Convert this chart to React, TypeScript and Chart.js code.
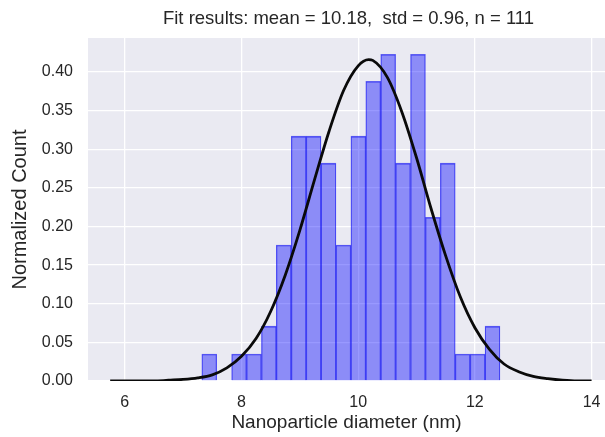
import React, { useEffect, useRef } from "react";
import { Chart, registerables } from "chart.js";

Chart.register(...registerables);

// Histogram bins (nm) and normalized counts
const binCenters = [7.448, 7.703, 7.959, 8.214, 8.47, 8.725, 8.981, 9.236, 9.492, 9.747, 10.003, 10.258, 10.514, 10.769, 11.025, 11.28, 11.536, 11.791, 12.047, 12.302];
const density = [0.035, 0, 0.035, 0.035, 0.071, 0.176, 0.317, 0.317, 0.282, 0.176, 0.317, 0.388, 0.423, 0.282, 0.423, 0.212, 0.282, 0.035, 0.035, 0.071];

// Fitted curve
const fitX = [5.75, 6.0, 6.25, 6.5, 6.75, 7.0, 7.25, 7.5, 7.75, 8.0, 8.25, 8.5, 8.75, 9.0, 9.25, 9.5, 9.75, 10.0, 10.18, 10.25, 10.5, 10.75, 11.0, 11.25, 11.5, 11.75, 12.0, 12.25, 12.5, 12.75, 13.0, 13.25, 13.5, 13.75, 14.0];
const fitY = [0.0, 0.0, 0.0, 0.0, 0.001, 0.002, 0.004, 0.008, 0.017, 0.032, 0.055, 0.09, 0.137, 0.195, 0.26, 0.323, 0.376, 0.408, 0.416, 0.415, 0.393, 0.348, 0.289, 0.223, 0.162, 0.109, 0.069, 0.041, 0.022, 0.012, 0.006, 0.003, 0.001, 0.0, 0.0];

const xTicks = [6, 8, 10, 12, 14];
const yTicks = [0, 0.05, 0.1, 0.15, 0.2, 0.25, 0.3, 0.35, 0.4];

const titleText = "Fit results: mean = 10.18,  std = 0.96, n = 111";
const xLabel = "Nanoparticle diameter (nm)";
const yLabel = "Normalized Count";

const FONT = "'Liberation Sans', Arial, Helvetica, sans-serif";
const TEXT = "#262626";

export default function App() {
  const ref = useRef<HTMLCanvasElement | null>(null);

  useEffect(() => {
    document.body.style.margin = "0";
    const canvas = ref.current;
    if (!canvas) return;

    const bgPlugin = {
      id: "bgPlugin",
      beforeDraw(chart: any) {
        const { ctx, chartArea } = chart;
        ctx.save();
        ctx.fillStyle = "#ffffff";
        ctx.fillRect(0, 0, chart.width, chart.height);
        ctx.fillStyle = "#EAEAF2";
        ctx.fillRect(chartArea.left, chartArea.top, chartArea.right - chartArea.left, chartArea.bottom - chartArea.top);
        ctx.restore();
      },
      afterDraw(chart: any) {
        const { ctx, chartArea } = chart;
        ctx.save();
        ctx.fillStyle = TEXT;
        ctx.font = `18.5px ${FONT}`;
        ctx.textAlign = "center";
        ctx.textBaseline = "middle";
        ctx.fillText(titleText, (chartArea.left + chartArea.right) / 2 + 2, 19);
        ctx.restore();
      },
    };

    const chart = new Chart(canvas, {
      type: "bar",
      data: {
        datasets: [
          {
            type: "line",
            data: fitX.map((x, i) => ({ x, y: fitY[i] })),
            borderColor: "#0a0a0a",
            borderWidth: 2.8,
            pointRadius: 0,
            cubicInterpolationMode: "monotone",
            fill: false,
            order: 0,
          } as any,
          {
            type: "bar",
            data: binCenters.map((x, i) => ({ x, y: density[i] })),
            backgroundColor: "rgba(0,0,255,0.4)",
            borderColor: "rgba(0,0,240,0.6)",
            borderWidth: { top: 1, left: 0.6, right: 0.6, bottom: 0 },
            borderSkipped: false,
            barPercentage: 1,
            categoryPercentage: 1,
            grouped: false,
            order: 1,
          } as any,
        ],
      },
      options: {
        animation: false,
        responsive: false,
        devicePixelRatio: 1,
        layout: { padding: { top: 38, left: 0, right: 0, bottom: 0 } },
        plugins: {
          legend: { display: false },
          tooltip: { enabled: false },
          title: { display: false },
        },
        scales: {
          x: {
            type: "linear",
            min: 5.37,
            max: 14.23,
            offset: false,
            grid: { color: "#ffffff", lineWidth: 1.3, drawTicks: false, offset: false },
            border: { display: false },
            ticks: {
              font: { family: FONT, size: 16 },
              color: TEXT,
              padding: 12,
              maxRotation: 0,
            },
            title: {
              display: true,
              text: xLabel,
              font: { family: FONT, size: 19 },
              color: TEXT,
              padding: { top: 0, bottom: 3 },
            },
            afterBuildTicks: (s: any) => {
              s.ticks = xTicks.map((v) => ({ value: v }));
            },
            afterFit: (s: any) => {
              s.height = 56;
              s.paddingLeft = 0;
              s.paddingRight = 0;
            },
          },
          y: {
            type: "linear",
            min: 0,
            max: 0.444,
            grid: { color: "#ffffff", lineWidth: 1.3, drawTicks: false },
            border: { display: false },
            ticks: {
              font: { family: FONT, size: 16 },
              color: TEXT,
              padding: 15,
              callback: (v: any) => Number(v).toFixed(2),
            },
            title: {
              display: true,
              text: yLabel,
              font: { family: FONT, size: 20 },
              color: TEXT,
              padding: { top: 8, bottom: 0 },
            },
            afterBuildTicks: (s: any) => {
              s.ticks = yTicks.map((v) => ({ value: v }));
            },
            afterFit: (s: any) => {
              s.width = 88;
              s.paddingTop = 0;
              s.paddingBottom = 0;
            },
          },
        },
      },
      plugins: [bgPlugin],
    });

    return () => chart.destroy();
  }, []);

  return (
    <div style={{ position: "fixed", left: 0, top: 0, width: 605, height: 437, background: "#fff" }}>
      <canvas ref={ref} width={605} height={437} style={{ display: "block", width: 605, height: 437 }} />
    </div>
  );
}
